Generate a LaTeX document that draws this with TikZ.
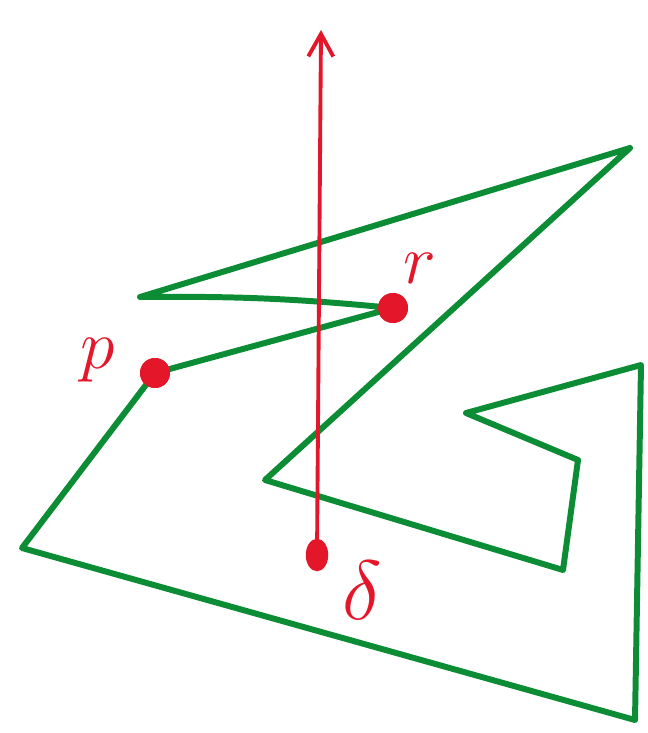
\documentclass[tikz,border=0pt]{standalone}
\usetikzlibrary{arrows.meta, shapes.geometric}
\definecolor{sketchgreen}{RGB}{12,140,52}
\definecolor{sketchred}{RGB}{228,22,42}

\begin{document}
\begin{tikzpicture}[x=0.02cm, y=-0.02cm,
  edge/.style={draw=sketchgreen, line width=3.4pt, line join=round, line cap=round},
  ray/.style={draw=sketchred, line width=2.2pt, line cap=round,
              -{Straight Barb[length=4.5mm, width=5mm, line width=2.2pt]}},
  dot/.style={circle, fill=sketchred, minimum size=0.6cm, inner sep=0pt},
  qdot/.style={ellipse, fill=sketchred, minimum width=0.45cm, minimum height=0.65cm, inner sep=0pt},
  lbl/.style={text=sketchred, font=\Huge, scale=1.6}
]
  \useasboundingbox (0,0) rectangle (647,733);

  % polygon corners
  \coordinate (c1) at (22,548);
  \coordinate (c2) at (635,720);
  \coordinate (c3) at (641,365);
  \coordinate (c4) at (466,413);
  \coordinate (c5) at (578,460);
  \coordinate (c6) at (563,570);
  \coordinate (c7) at (265,480);
  \coordinate (c8) at (630,148);
  \coordinate (c9) at (140,297);
  \coordinate (top) at (321,30);

  \node[dot] (p) at (155,373) {};
  \node[dot] (r) at (393,308) {};
  \node[qdot] (q) at (317,555) {};

  \draw[edge] (p.center) -- (c1) -- (c2) -- (c3) -- (c4) -- (c5) -- (c6) -- (c7)
    -- (c8) -- (c9) to[bend left=3] (r.center) -- cycle;

  \node[dot] at (p) {};
  \node[dot] at (r) {};

  \draw[ray] (q.center) -- (top);

  \node[lbl] (plbl) at (98,360) {$p$};
  \node[lbl] (rlbl) at (420,268) {$r$};
  \node[lbl, scale=1.2] (qlbl) at (362,590) {$\delta$};
\end{tikzpicture}
\end{document}
